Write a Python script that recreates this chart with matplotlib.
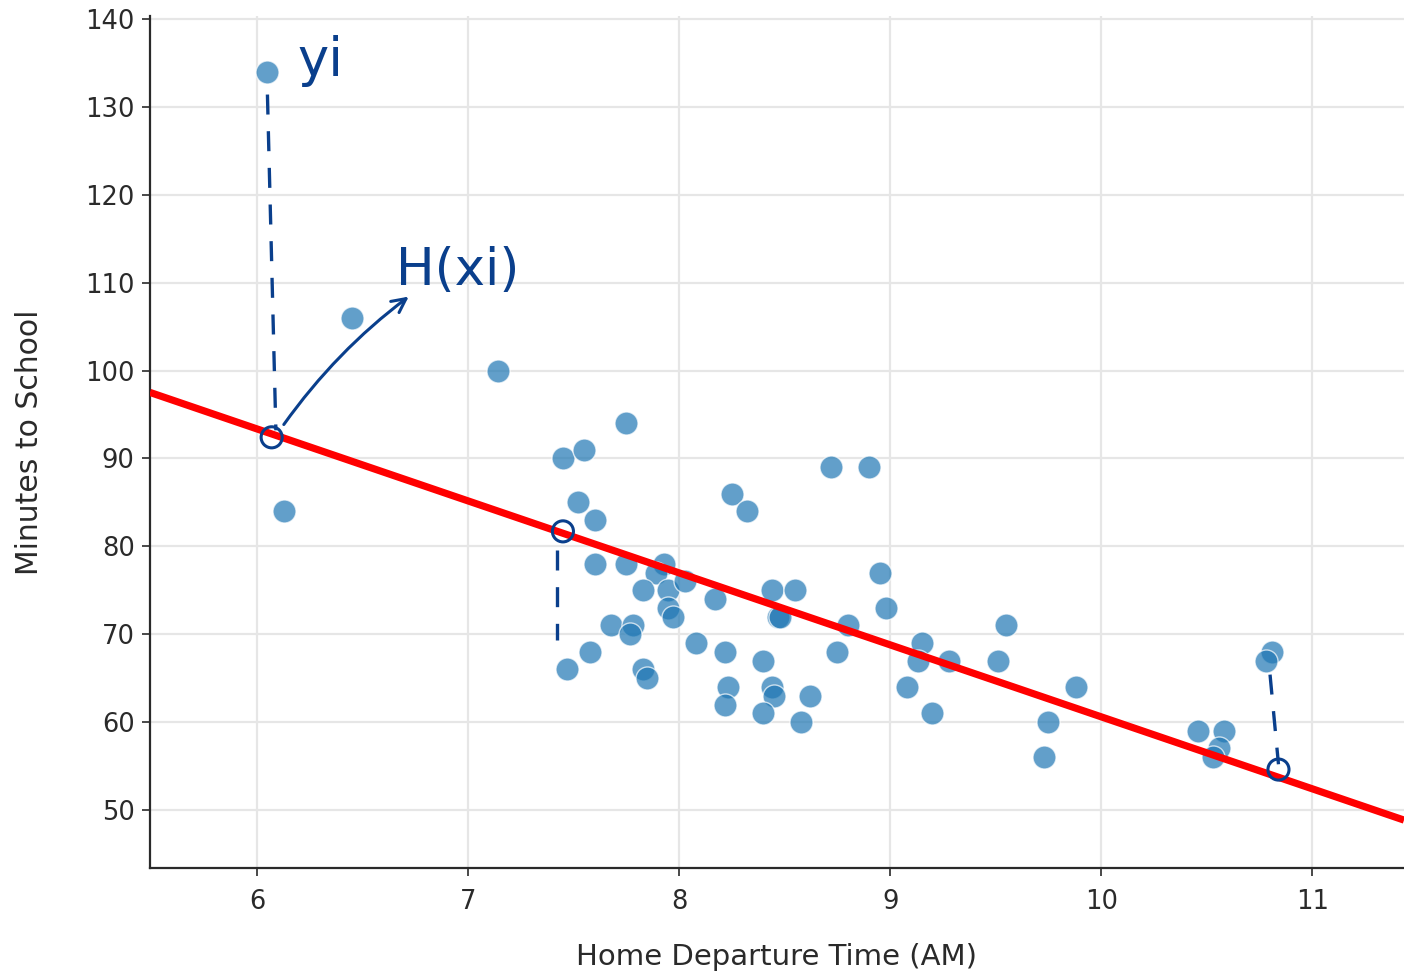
import numpy as np
import matplotlib.pyplot as plt

# departure time (hours AM) and minutes to school
dep_time = [6.05, 6.45, 6.13, 7.14, 7.75, 7.45, 7.55, 7.52, 7.60, 7.60,
            7.75, 7.93, 7.89, 7.95, 8.03, 7.83, 8.17, 7.95, 7.97, 7.68,
            7.78, 7.77, 7.58, 7.47, 7.83, 7.85, 8.08, 8.22, 8.23, 8.22,
            8.25, 8.32, 8.44, 8.55, 8.47, 8.48, 8.40, 8.44, 8.45, 8.40,
            8.62, 8.58, 8.80, 8.75, 9.15, 9.13, 9.08, 9.20, 8.95, 8.98,
            8.72, 8.90, 9.28, 9.55, 9.51, 9.88, 9.75, 9.73, 10.46, 10.58,
            10.56, 10.53, 10.81, 10.78]
minutes = [134, 106, 84, 100, 94, 90, 91, 85, 83, 78,
           78, 78, 77, 75, 76, 75, 74, 73, 72, 71,
           71, 70, 68, 66, 66, 65, 69, 68, 64, 62,
           86, 84, 75, 75, 72, 72, 67, 64, 63, 61,
           63, 60, 71, 68, 69, 67, 64, 61, 77, 73,
           89, 89, 67, 71, 67, 64, 60, 56, 59, 59,
           57, 56, 68, 67]

# fitted line H(x) = a + b*x
intercept = 142.5
slope = -8.19

xlim = (5.4934, 11.4347)
ylim = (43.40, 140.34)
ink = '#0a3f8c'
axis_col = '#2a2a2a'

fig = plt.figure(figsize=(14.04, 9.8), dpi=100)
ax = fig.add_axes([0.1068, 0.1143, 0.8932, 0.8694])

ax.grid(True, color='#e6e6e6', linewidth=1.6, zorder=0)
ax.set_axisbelow(True)

ax.scatter(dep_time, minutes, s=275, color='#1f77b4', alpha=0.7,
           edgecolors='white', linewidths=1.0, zorder=3)

xx = np.array(xlim)
ax.plot(xx, intercept + slope * xx, color='red', linewidth=5.2, zorder=4,
        solid_capstyle='butt')

# pen notes: residual dashes, circled fitted values, labels
dash = dict(color=ink, linewidth=2.4, linestyle=(0, (6, 5)), zorder=6)
ax.plot([6.05, 6.09], [131.4, 93.2], **dash)
ax.plot([7.42, 7.42], [79.6, 69.3], **dash)
ax.plot([10.80, 10.84], [65.4, 55.2], **dash)

ax.scatter([6.07, 7.45, 10.84], [92.4, 81.7, 54.6], s=230, facecolors='none',
           edgecolors=ink, linewidths=2.2, zorder=7)

ax.annotate('', xy=(6.73, 108.6), xytext=(6.12, 93.6),
            arrowprops=dict(arrowstyle='->', color=ink, lw=2.2,
                            mutation_scale=25,
                            connectionstyle='arc3,rad=-0.08'),
            zorder=7)

ax.text(6.19, 135.2, 'yi', color=ink, fontsize=38, va='center', ha='left',
        zorder=7)
ax.text(6.66, 111.3, 'H(xi)', color=ink, fontsize=37, va='center', ha='left',
        zorder=7)

ax.set_xlim(*xlim)
ax.set_ylim(*ylim)
ax.set_xticks([6, 7, 8, 9, 10, 11])
ax.set_yticks(range(50, 141, 10))

for side in ['top', 'right']:
    ax.spines[side].set_visible(False)
for side in ['left', 'bottom']:
    ax.spines[side].set_color(axis_col)
    ax.spines[side].set_linewidth(1.6)

ax.tick_params(direction='out', length=6, width=1.2, color=axis_col,
               labelsize=18.5, labelcolor=axis_col, pad=5)
ax.tick_params(axis='x', pad=9)

ax.set_xlabel('Home Departure Time (AM)', fontsize=21, color=axis_col,
              labelpad=20)
ax.set_ylabel('Minutes to School', fontsize=21.5, color=axis_col, labelpad=30)

fig.savefig('out.png', dpi=100)
